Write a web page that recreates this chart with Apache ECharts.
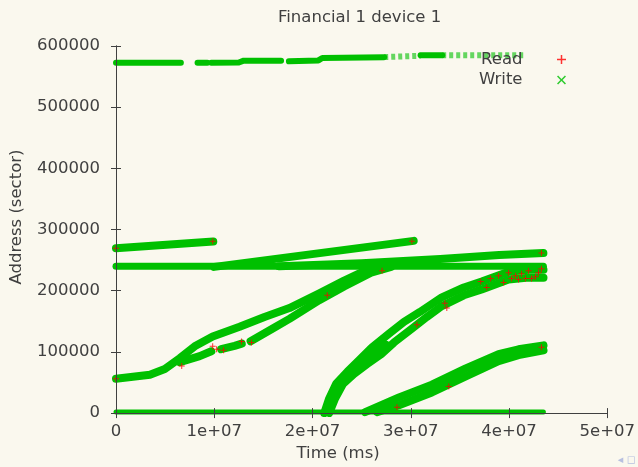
<!DOCTYPE html>
<html>
<head>
<meta charset="utf-8">
<script src="https://cdn.jsdelivr.net/npm/echarts@6/dist/echarts.min.js"></script>
<style>
  html, body { margin: 0; padding: 0; background: #faf8ee; }
  #chart { width: 638px; height: 467px; }
</style>
</head>
<body>
<div id="chart"></div>
<script>
// Block trace of device 1 (Financial 1): time (ms) vs. sector address.
const titleText = 'Financial 1 device 1';
const xTickValues = [0, 1e7, 2e7, 3e7, 4e7, 5e7];
const xTickLabels = ['0', '1e+07', '2e+07', '3e+07', '4e+07', '5e+07'];
const yTickValues = [0, 100000, 200000, 300000, 400000, 500000, 600000];
const yTickLabels = ['0', '100000', '200000', '300000', '400000', '500000', '600000'];

// Write traces, [time, sector]; each array is one continuous run of requests.
const writeZero = [[0, 2000], [4.35e7, 2000]];
const writeFlat240k = [[0, 240000], [4.35e7, 240000]];
const writeRun270k = [[0, 269500], [9.9e6, 280500]];
const writeTopA = [[0, 572500], [6.6e6, 572500]];
const writeTopB = [[8.3e6, 572500], [9.3e6, 572500]];
const writeTopC = [[9.7e6, 572500], [1.25e7, 573000], [1.3e7, 576000], [1.68e7, 576000]];
const writeTopD = [[1.76e7, 575000], [2.06e7, 576500], [2.1e7, 580500], [2.73e7, 581800]];
const writeTopE = [[3.1e7, 584800], [3.32e7, 584800]];
const writeTopSparse1 = [[2.73e7, 582000], [3.1e7, 584000]];
const writeTopSparse2 = [[3.32e7, 584800], [4.15e7, 584800]];
const writeRise1 = [[1.0e7, 239000], [3.03e7, 281500]];
const writeRise2 = [[1.66e7, 240000], [2.5e7, 245000], [3.3e7, 252000], [3.9e7, 258500], [4.35e7, 261500]];
const writeSweep1Upper = [[0, 56200], [3.45e6, 62600], [4.97e6, 72200], [6.49e6, 89800], [8.01e6, 109100],
  [9.84e6, 125100], [1.258e7, 141200], [1.511e7, 157200], [1.765e7, 171700], [2.069e7, 195700],
  [2.322e7, 216600], [2.596e7, 237500]];
const writeSweep1LowerA = [[6.49e6, 83400], [8.52e6, 93100], [9.7e6, 101000]];
const writeSweep1LowerB = [[1.07e7, 104500], [1.207e7, 110000], [1.28e7, 113500]];
const writeSweep1LowerC = [[1.37e7, 117500], [1.613e7, 140000], [1.765e7, 154000], [2.069e7, 184500],
  [2.322e7, 207000], [2.596e7, 229400], [2.8e7, 239100]];
const writeSweep2Upper = [[2.12e7, 0], [2.17e7, 24100], [2.241e7, 48100], [2.353e7, 67400], [2.475e7, 86600],
  [2.606e7, 107500], [2.779e7, 130000], [2.931e7, 149200], [3.093e7, 165300], [3.316e7, 189300],
  [3.54e7, 205400], [3.722e7, 215000], [3.996e7, 231000], [4.199e7, 234200], [4.351e7, 234200]];
const writeSweep2Lower = [[2.17e7, 0], [2.231e7, 24100], [2.312e7, 48100], [2.424e7, 64200], [2.556e7, 80200],
  [2.698e7, 96300], [2.83e7, 115500], [3.012e7, 138000], [3.164e7, 157200], [3.316e7, 174900],
  [3.54e7, 192500], [3.722e7, 202200], [3.996e7, 218200], [4.199e7, 221400], [4.351e7, 221400]];
const writeSweep2Knot = [[2.475e7, 78600], [2.738e7, 109100]];
const writeSweep3Upper = [[2.536e7, 1600], [2.88e7, 25700], [3.215e7, 46500], [3.56e7, 73000],
  [3.894e7, 96300], [4.097e7, 104300], [4.351e7, 110700]];
const writeSweep3Lower = [[2.657e7, 1600], [2.88e7, 12800], [3.215e7, 33700], [3.56e7, 60200],
  [3.894e7, 85000], [4.097e7, 94700], [4.351e7, 102700]];

// Read requests, [time, sector].
const readPoints = [
  [0, 56200], [0, 269500], [9.84e6, 280800], [6.69e6, 77000], [9.84e6, 109100], [1.024e7, 104300],
  [1.095e7, 102700], [1.278e7, 117100], [1.379e7, 115500], [2.15e7, 192500], [2.708e7, 232600],
  [2.86e7, 9600], [3.012e7, 280800], [3.063e7, 144400], [3.347e7, 179700], [3.367e7, 171700],
  [3.387e7, 43300], [3.712e7, 215000], [3.773e7, 205400], [3.813e7, 219800], [3.894e7, 224600],
  [3.945e7, 213400], [3.996e7, 229400], [4.026e7, 219800], [4.067e7, 224600], [4.097e7, 218200],
  [4.128e7, 227800], [4.168e7, 219800], [4.199e7, 232600], [4.229e7, 219800], [4.27e7, 223000],
  [4.3e7, 229400], [4.33e7, 235800], [4.33e7, 261500], [4.33e7, 107500]
];

const writeColor = '#00c000';
const readColor = '#ff0000';
const textColor = '#404040';
const axisColor = '#404040';
const font = 'DejaVu Sans';
const fontSize = 16.5;

// Marker shapes: gnuplot-style "+" for reads and "x" for writes.
const plusPath = 'path://M3.75,0h1.5v3.75h3.75v1.5h-3.75v3.75h-1.5v-3.75h-3.75v-1.5h3.75z';
const crossPath = 'path://M0,1.1L1.1,0L4.5,3.4L7.9,0L9,1.1L5.6,4.5L9,7.9L7.9,9L4.5,5.6L1.1,9L0,7.9L3.4,4.5Z';

function writeTrace(data, width, extra) {
  return Object.assign({
    type: 'line',
    name: 'Write',
    data: data,
    symbol: 'none',
    itemStyle: { color: writeColor },
    lineStyle: { color: writeColor, width: width, cap: 'round', join: 'round' },
    silent: true,
    z: 2
  }, extra || {});
}

const sparseStyle = { lineStyle: { color: writeColor, width: 6, type: [4, 3], opacity: 0.6 } };

const series = [
  writeTrace(writeZero, 5),
  writeTrace(writeFlat240k, 7),
  writeTrace(writeRun270k, 8),
  writeTrace(writeTopA, 6),
  writeTrace(writeTopB, 6),
  writeTrace(writeTopC, 6),
  writeTrace(writeTopD, 6),
  writeTrace(writeTopE, 6),
  writeTrace(writeTopSparse1, 6, sparseStyle),
  writeTrace(writeTopSparse2, 6, sparseStyle),
  writeTrace(writeRise1, 8),
  writeTrace(writeRise2, 8),
  writeTrace(writeSweep1Upper, 8),
  writeTrace(writeSweep1LowerA, 8),
  writeTrace(writeSweep1LowerB, 8),
  writeTrace(writeSweep1LowerC, 8),
  writeTrace(writeSweep2Upper, 8),
  writeTrace(writeSweep2Lower, 8),
  writeTrace(writeSweep2Knot, 12),
  writeTrace(writeSweep3Upper, 8),
  writeTrace(writeSweep3Lower, 8),
  {
    type: 'scatter',
    name: 'Read',
    data: readPoints,
    symbol: plusPath,
    symbolSize: 6,
    itemStyle: { color: readColor },
    silent: true,
    z: 3
  }
];

const chart = echarts.init(document.getElementById('chart'), null, { renderer: 'canvas' });
chart.setOption({
  animation: false,
  backgroundColor: '#faf8ee',
  textStyle: { fontFamily: font },
  title: {
    text: titleText,
    left: 278,
    top: 9,
    padding: 0,
    textStyle: { fontFamily: font, fontSize: fontSize, fontWeight: 'normal', color: textColor }
  },
  legend: {
    orient: 'vertical',
    align: 'right',
    right: 72,
    top: 51,
    padding: 0,
    itemWidth: 68,
    itemHeight: 9,
    itemGap: 3.5,
    selectedMode: false,
    textStyle: { fontFamily: font, fontSize: fontSize, color: textColor },
    data: [
      { name: 'Read', icon: plusPath, itemStyle: { color: readColor, borderWidth: 0 } },
      { name: 'Write', icon: crossPath, itemStyle: { color: '#2fcb2f', borderWidth: 0 } }
    ]
  },
  grid: { left: 116, right: 29, top: 46, bottom: 47, containLabel: false },
  xAxis: [
    {
      type: 'value', min: 0, max: 5e7, interval: 1e7, z: 5,
      name: 'Time (ms)', nameLocation: 'middle', nameGap: 24,
      nameTextStyle: { fontFamily: font, fontSize: fontSize, color: textColor, padding: [0, 47, 0, 0] },
      axisLine: { show: true, lineStyle: { color: '#202020', width: 1 } },
      axisTick: { show: true, inside: true, length: 5, lineStyle: { color: axisColor } },
      axisLabel: {
        margin: 10, fontFamily: font, fontSize: fontSize, color: textColor,
        formatter: v => xTickLabels[xTickValues.indexOf(v)]
      },
      splitLine: { show: false }
    },
    {
      type: 'value', position: 'top', min: 0, max: 5e7, interval: 1e7, z: 5,
      axisLine: { show: true, lineStyle: { color: axisColor, width: 1 } },
      axisTick: { show: true, inside: true, length: 5, lineStyle: { color: axisColor } },
      axisLabel: { show: false },
      splitLine: { show: false }
    }
  ],
  yAxis: [
    {
      type: 'value', min: 0, max: 600000, interval: 100000, z: 5,
      name: 'Address (sector)', nameLocation: 'middle', nameGap: 91,
      nameTextStyle: { fontFamily: font, fontSize: fontSize, color: textColor, padding: [0, 0, 0, 25] },
      axisLine: { show: true, lineStyle: { color: axisColor, width: 1 } },
      axisTick: { show: true, inside: true, length: 5, lineStyle: { color: axisColor } },
      axisLabel: {
        margin: 16, fontFamily: font, fontSize: fontSize, color: textColor,
        formatter: v => yTickLabels[yTickValues.indexOf(v)]
      },
      splitLine: { show: false }
    },
    {
      type: 'value', position: 'right', min: 0, max: 600000, interval: 100000, z: 5,
      axisLine: { show: true, lineStyle: { color: axisColor, width: 1 } },
      axisTick: { show: true, inside: true, length: 5, lineStyle: { color: axisColor } },
      axisLabel: { show: false },
      splitLine: { show: false }
    }
  ],
  graphic: [
    {
      type: 'text', right: 2, bottom: 1, silent: true,
      style: { text: '◂ ◻', fill: '#b8c0e0', fontSize: 11, fontFamily: font }
    }
  ],
  series: series
});
</script>
</body>
</html>
